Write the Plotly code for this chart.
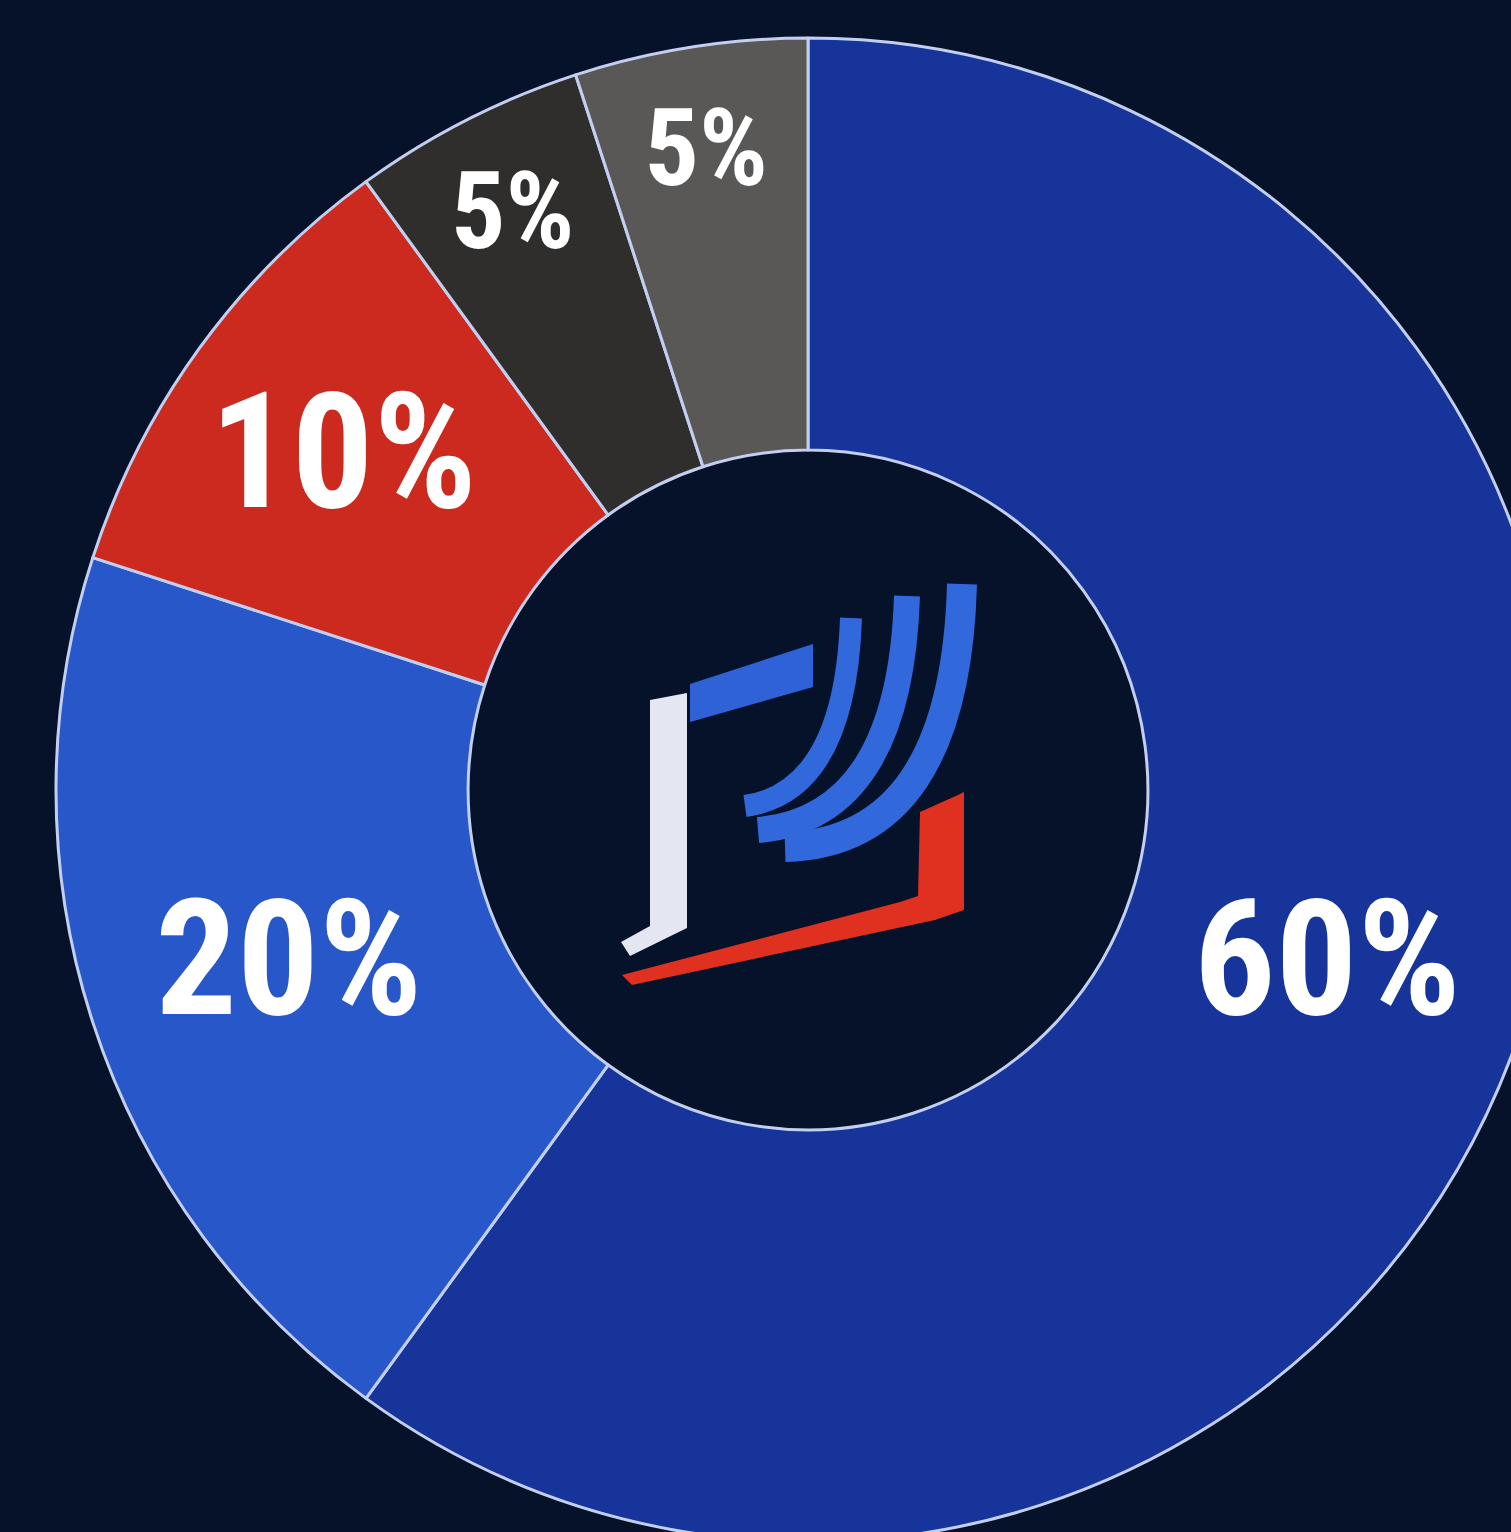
import plotly.graph_objects as go

# ---- data ----
labels = ["Segment A", "Segment B", "Segment C", "Segment D", "Segment E"]
values = [60, 20, 10, 5, 5]
slice_colors = ["#17349a", "#2757c8", "#cc2a1e", "#2f2e2c", "#5a5857"]
label_sizes = [162, 162, 162, 108, 108]

# ---- canvas geometry (figure larger than the window, cropped like the reference) ----
W, H = 1616, 1580
CX, CY, R = 808, 790, 752
BG = "#06122a"

dom_x = [(CX - R) / W, (CX + R) / W]
dom_y = [1 - (CY + R) / H, 1 - (CY - R) / H]

fig = go.Figure(
    go.Pie(
        labels=labels,
        values=values,
        sort=False,
        direction="clockwise",
        rotation=0,
        hole=0.452,
        marker=dict(colors=slice_colors, line=dict(color="#c3cff0", width=3)),
        texttemplate="%{percent:.0%}",
        textposition="inside",
        insidetextorientation="horizontal",
        textfont=dict(family="Roboto Condensed, Open Sans Condensed, sans-serif",
                      size=label_sizes, color="#ffffff", weight="bold"),
        domain=dict(x=dom_x, y=dom_y),
        showlegend=False,
        hoverinfo="label+percent",
    )
)


def P(pts, close=True):
    s = ""
    for cmd, *xy in pts:
        coords = []
        for j in range(0, len(xy), 2):
            coords.append(f"{xy[j] / W:.5f},{1 - xy[j + 1] / H:.5f}")
        s += cmd + " " + " ".join(coords) + " "
    return s + ("Z" if close else "")


shapes = []
# white bracket
shapes.append(dict(type="path", xref="paper", yref="paper", layer="above",
                   path=P([("M", 650, 700), ("L", 687, 693), ("L", 687, 928), ("L", 630, 956),
                           ("L", 621, 942), ("L", 650, 926)]),
                   fillcolor="#e4e6f2", line=dict(width=0)))
# blue top bar
shapes.append(dict(type="path", xref="paper", yref="paper", layer="above",
                   path=P([("M", 690, 684), ("L", 813, 644), ("L", 813, 687), ("L", 690, 722)]),
                   fillcolor="#2f62d6", line=dict(width=0)))
# blue arcs
for (x0, y0, qx, qy, x1, y1, w) in [(851, 618, 845, 792, 745, 806, 22),
                                    (907, 596, 900, 818, 758, 830, 26),
                                    (962, 584, 955, 842, 785, 847, 30)]:
    shapes.append(dict(type="path", xref="paper", yref="paper", layer="above",
                       path=P([("M", x0, y0), ("Q", qx, qy, x1, y1)], close=False),
                       fillcolor="rgba(0,0,0,0)", line=dict(color="#3169dc", width=w)))
# red base
shapes.append(dict(type="path", xref="paper", yref="paper", layer="above",
                   path=P([("M", 958, 795), ("L", 964, 792), ("L", 964, 910), ("L", 935, 920),
                           ("L", 632, 985), ("L", 622, 975), ("L", 900, 902), ("L", 918, 896),
                           ("L", 920, 812)]),
                   fillcolor="#e0301f", line=dict(width=0)))

fig.update_layout(
    width=W, height=H,
    margin=dict(l=0, r=0, t=0, b=0),
    paper_bgcolor=BG, plot_bgcolor=BG,
    shapes=shapes,
)

post = """
document.documentElement.style.margin='0';
document.body.style.margin='0';
document.documentElement.style.overflow='hidden';
document.body.style.overflow='hidden';
document.documentElement.style.background='%s';
document.body.style.background='%s';
var gd=document.getElementById('{plot_id}');
gd.parentElement.style.width='1511px';
gd.parentElement.style.height='1532px';
gd.parentElement.style.overflow='hidden';
""" % (BG, BG)

fig.write_html("out.html", config={"displayModeBar": False}, post_script=post)
